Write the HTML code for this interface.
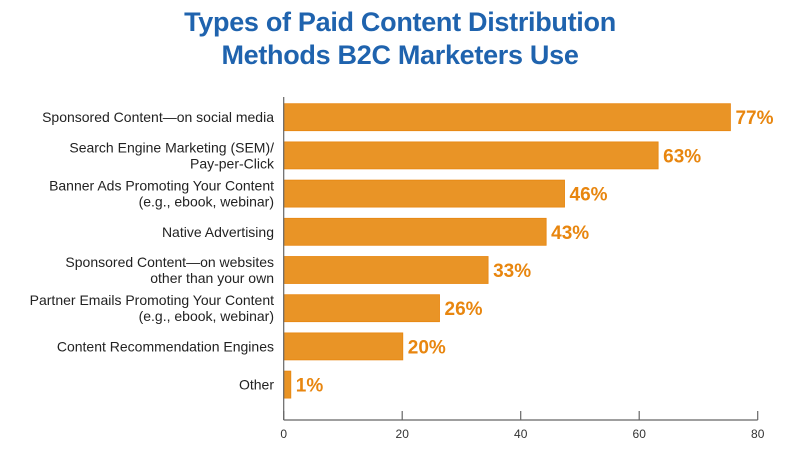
<!DOCTYPE html>
<html><head><meta charset="utf-8"><style>
body{margin:0;background:#fff;width:800px;height:454px;overflow:hidden;font-family:"Liberation Sans",sans-serif}
#title{position:absolute;left:0;width:800px;top:6px;text-align:center;color:#1f63ae;font-weight:bold;font-size:27px;line-height:33px;letter-spacing:-0.3px}
</style></head><body>
<div id="title">Types of Paid Content Distribution<br>Methods B2C Marketers Use</div>
<svg id="chart" width="800" height="454" style="position:absolute;left:0;top:0"></svg>
<script>
const categories=[["Sponsored Content—on social media"],["Search Engine Marketing (SEM)/","Pay-per-Click"],["Banner Ads Promoting Your Content","(e.g., ebook, webinar)"],["Native Advertising"],["Sponsored Content—on websites","other than your own"],["Partner Emails Promoting Your Content","(e.g., ebook, webinar)"],["Content Recommendation Engines"],["Other"]];
const barValues=[75.4,63.2,47.4,44.3,34.5,26.3,20.1,1.2];
const valueLabels=["77%","63%","46%","43%","33%","26%","20%","1%"];
const tickValues=[0,20,40,60,80];
const NS="http://www.w3.org/2000/svg";
const svg=document.getElementById('chart');
const x0=283.7,x1=757.7,vmax=80,top0=103.7,step=38.2,bh=27,axisY=420;
const xs=v=>x0+(x1-x0)*v/vmax;
const yb=i=>top0+i*step;
function mk(t,a){const e=document.createElementNS(NS,t);for(const k in a)e.setAttribute(k,a[k]);svg.appendChild(e);return e;}
barValues.forEach((v,i)=>{
  const r=mk('rect',{x:xs(0),y:yb(i),width:xs(v)-xs(0),height:bh,fill:'#e99426',stroke:'#e8860f','stroke-width':0.8});
  
  
  const t=mk('text',{x:xs(v)+5,y:yb(i)+bh/2+7,fill:'#e8860f','font-size':19,'font-weight':'bold'});
  t.textContent=valueLabels[i];
  
  
  const lines=categories[i];
  const cy=yb(i)+bh/2;
  lines.forEach((ln,j)=>{
    const c=mk('text',{x:274,y:cy+5+(j-(lines.length-1)/2)*16,'text-anchor':'end',fill:'#222','font-size':14});
    c.textContent=ln;
    
    
  });
});
const ya=mk('line',{x1:x0,x2:x0,y1:97,y2:axisY,stroke:'#666','stroke-width':1.2});


const xa=mk('line',{x1:x0,x2:x1,y1:axisY,y2:axisY,stroke:'#666','stroke-width':1.2});


tickValues.forEach(v=>{
  const tk=mk('line',{x1:xs(v),x2:xs(v),y1:axisY-9,y2:axisY,stroke:'#666','stroke-width':1.2});
  
  
  const tl=mk('text',{x:xs(v),y:438,'text-anchor':'middle',fill:'#333','font-size':12});
  tl.textContent=v;
  
  
});
</script>
</body></html>
